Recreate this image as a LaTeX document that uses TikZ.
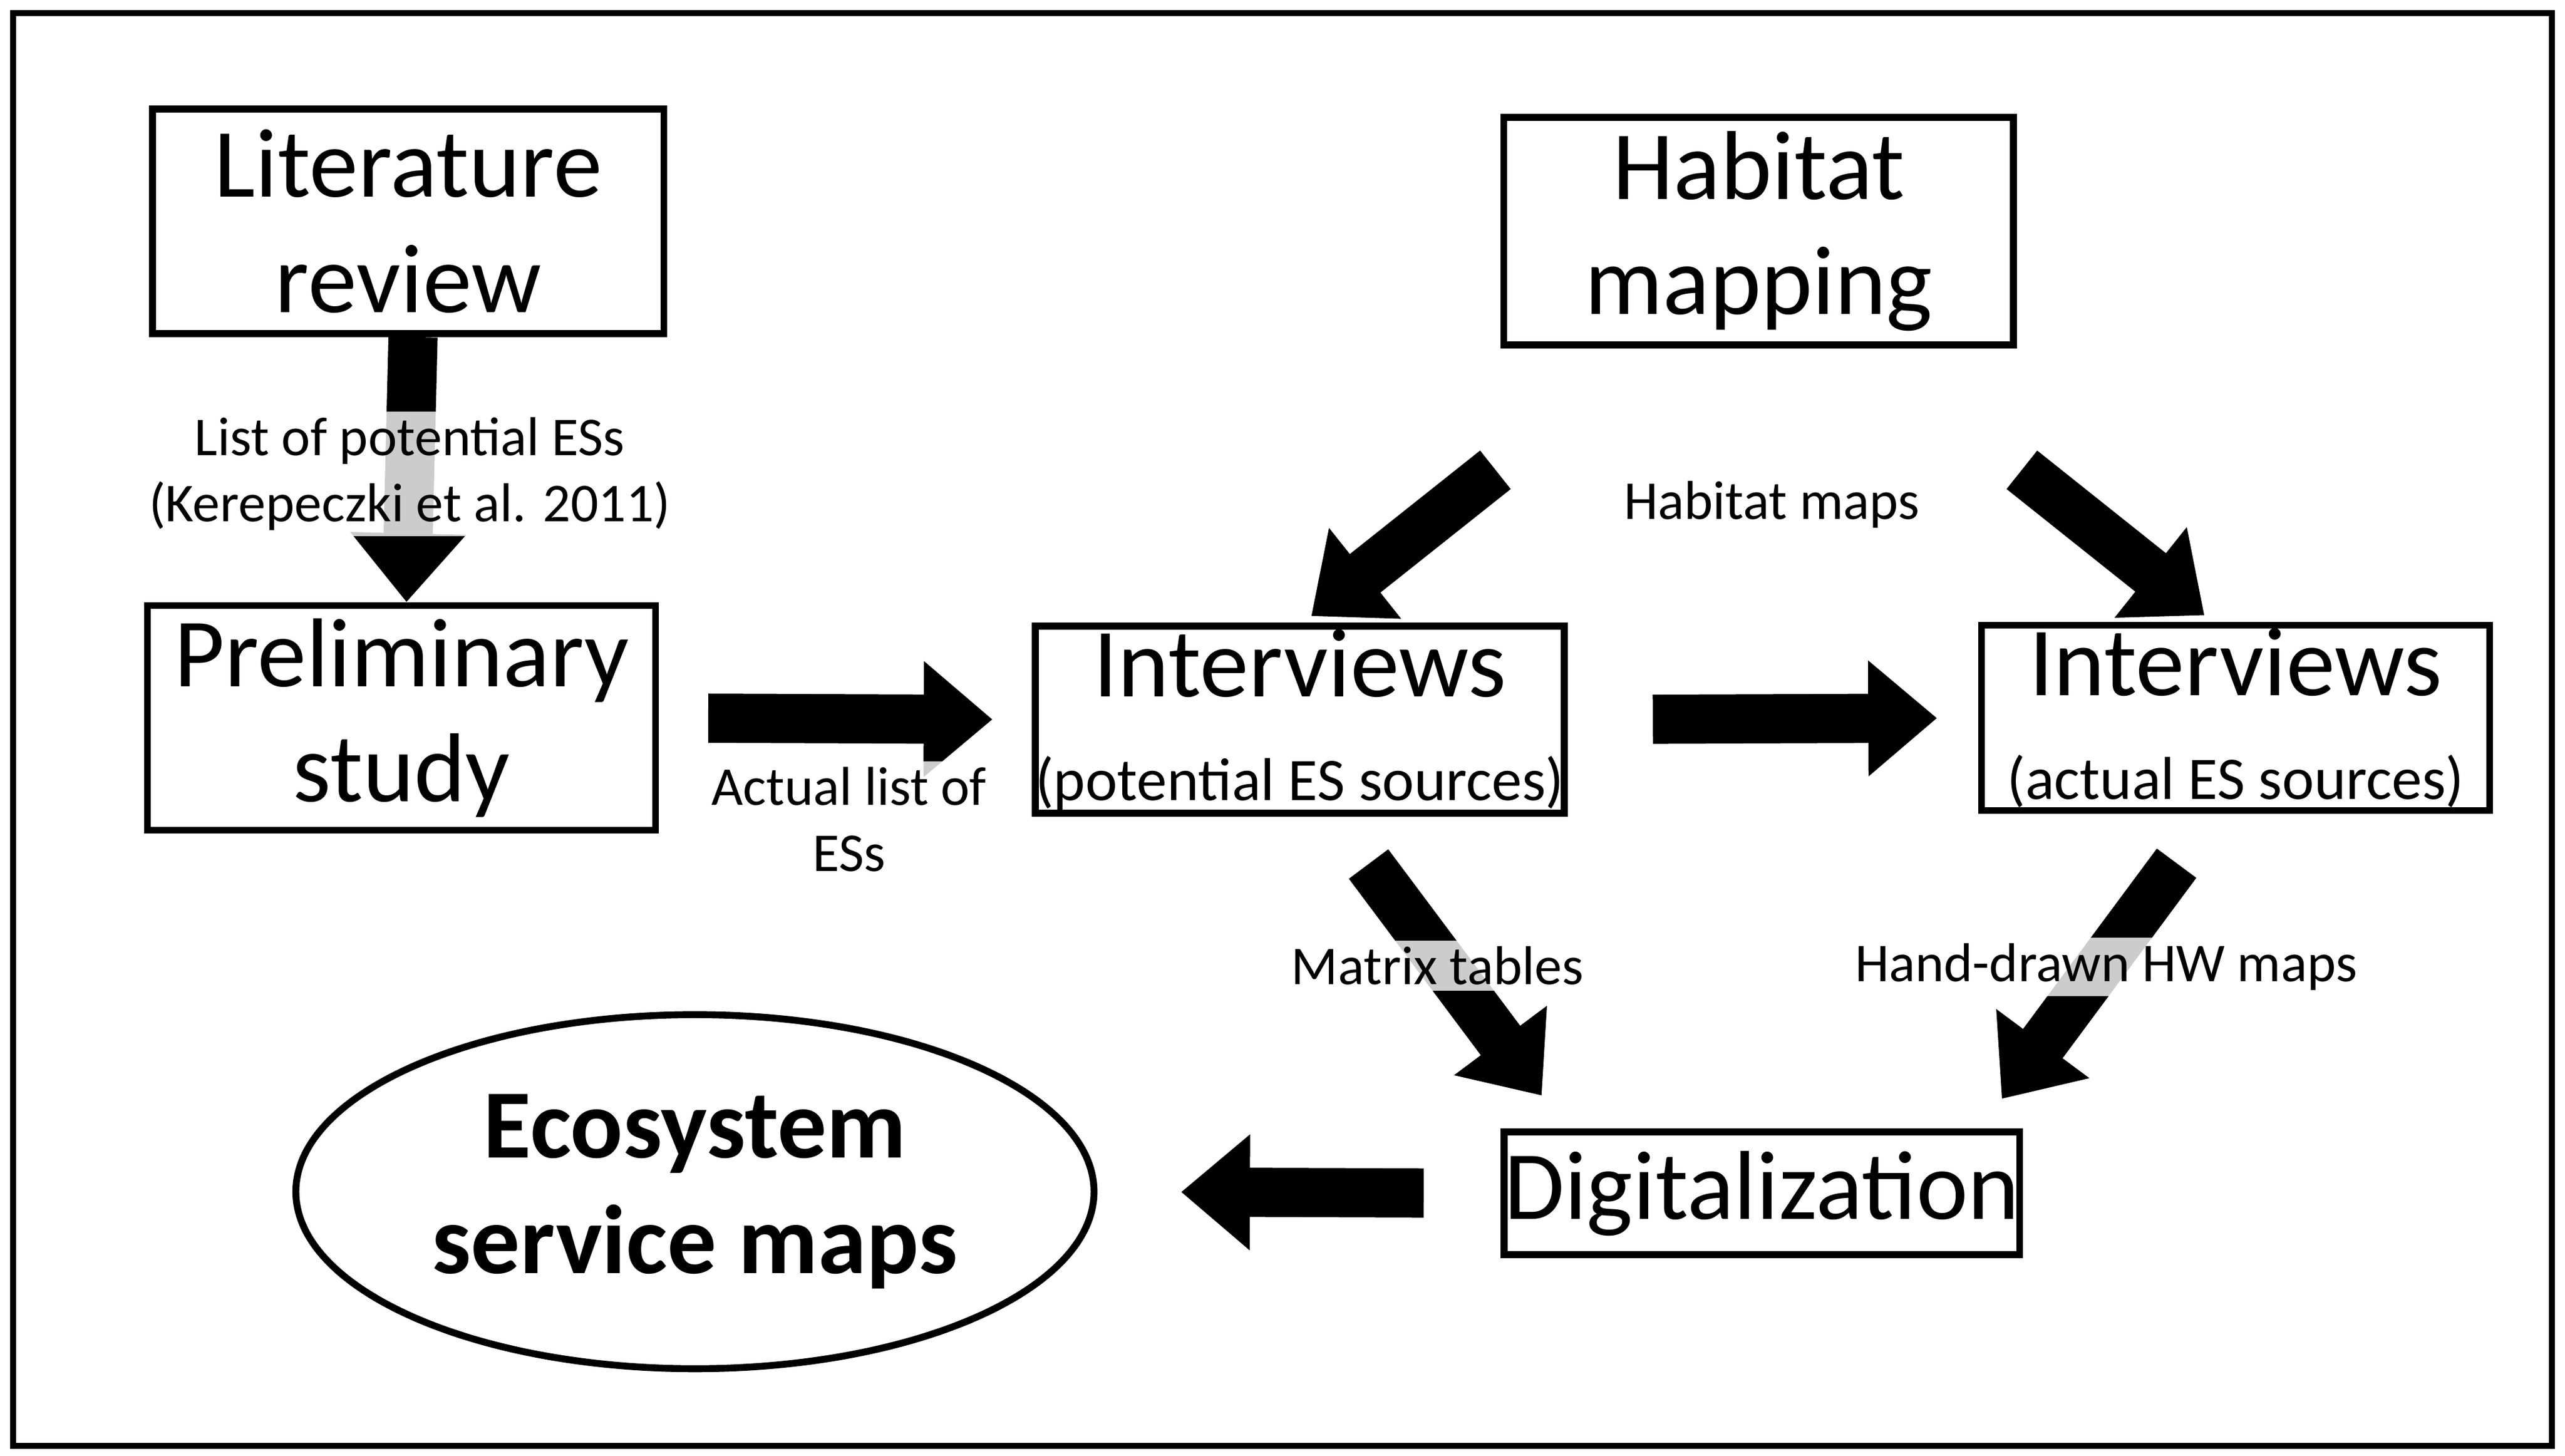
\documentclass[tikz,border=0pt]{standalone}
\usepackage{fontspec}
\setmainfont{Carlito}
\usetikzlibrary{arrows.meta, shapes.geometric}
\tikzstyle{box}   = [rectangle, draw=black, line width=1.2pt, align=center, font=\fontsize{17}{20}\selectfont, inner sep=0pt]
\tikzstyle{lbl}   = [align=center, font=\fontsize{9.5}{11.5}\selectfont, fill=white, fill opacity=0.8, text opacity=1, inner sep=1pt]
\tikzstyle{fat}   = [line width=0.3cm, -{Triangle[width=0.68cm,length=0.42cm]}]

\begin{document}
\begin{tikzpicture}
      \useasboundingbox (0,0) rectangle (15.65,8.88);
      \draw [line width=1pt] (0.08,0.06) rectangle (15.57,8.80);

      \node (lit)  [box, minimum width=3.12cm, minimum height=1.37cm] at (2.49,7.53) {Literature\\review};
      \node (pre)  [box, minimum width=3.10cm, minimum height=1.37cm] at (2.45,4.50) {Preliminary\\study};
      \node (hab)  [box, minimum width=3.11cm, minimum height=1.39cm] at (10.73,7.47) {Habitat\\mapping};
      \node (int1) [box, minimum width=3.10cm, minimum height=1.14cm] at (7.93,4.49) {Interviews\\[-2pt]{\fontsize{10.5}{12}\selectfont(potential ES sources)}};
      \node (int2) [box, minimum width=3.10cm, minimum height=1.13cm] at (13.64,4.50) {Interviews\\[-2pt]{\fontsize{10.5}{12}\selectfont(actual ES sources)}};
      \node (dig)  [box, minimum width=3.11cm, minimum height=0.75cm] at (10.75,1.60) {Digitalization};
      \node (eco)  [ellipse, draw=black, line width=1.2pt, minimum width=4.30cm, minimum height=2.16cm, align=center, font=\fontsize{17}{20}\selectfont\bfseries] at (4.24,1.61) {Ecosystem\\service maps};

      \draw [fat] ([xshift=0.03cm]lit.south) -- ([xshift=0.03cm]pre.north);
      \draw [fat, shorten <=0.3cm, shorten >=0.24cm] (pre.east) -- (int1.west);
      \draw [fat, shorten <=0.52cm, shorten >=0.25cm] (int1.east) -- (int2.west);
      \draw [fat, shorten <=0.47cm, shorten >=0.51cm] (dig.west) -- (eco.east);

      \draw [fat] ([xshift=-0.03cm,yshift=-0.74cm]hab.south west) -- ([xshift=0.07cm,yshift=0.04cm]int1.north);
      \draw [fat] ([xshift=0.03cm,yshift=-0.74cm]hab.south east) -- ([xshift=-0.19cm,yshift=0.04cm]int2.north);
      \draw [fat] ([xshift=0.42cm,yshift=-0.29cm]int1.south) -- ([xshift=0.25cm,yshift=0.2cm]dig.north west);
      \draw [fat] ([xshift=-0.36cm,yshift=-0.3cm]int2.south) -- ([xshift=-0.13cm,yshift=0.18cm]dig.north east);

      \node (l1) [lbl] at (2.50,5.99) {List of potential ESs\\(Kerepeczki et al. 2011)};
      \node (l2) [lbl] at (5.18,3.88) {Actual list of\\ESs};
      \node (l3) [lbl] at (10.81,5.80) {Habitat maps};
      \node (l4) [lbl] at (8.77,2.99) {Matrix tables};
      \node (l5) [lbl] at (12.85,2.98) {Hand-drawn HW maps};

    \end{tikzpicture}
\end{document}
